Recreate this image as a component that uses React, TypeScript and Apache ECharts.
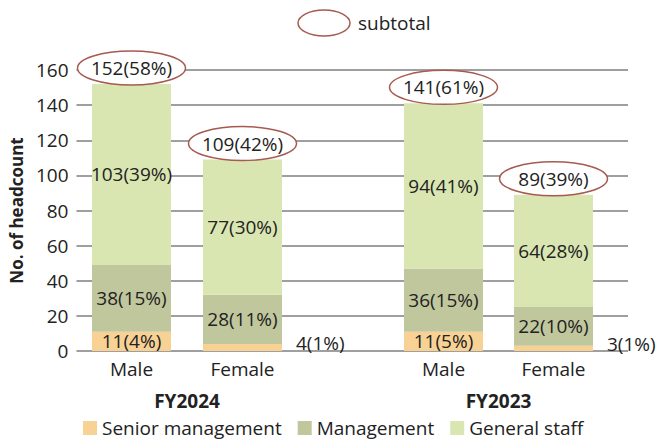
import React, { useEffect, useRef } from "react";
import * as echarts from "echarts";

const categories = ["Male", "Female"];
const fyLabels = ["FY2024", "FY2023"];
const seriesNames = ["Senior management", "Management", "General staff"];

const senior2024 = [11, 4];
const seniorPct2024 = [4, 1];
const mgmt2024 = [38, 28];
const mgmtPct2024 = [15, 11];
const general2024 = [103, 77];
const generalPct2024 = [39, 30];
const subtotalPct2024 = [58, 42];

const senior2023 = [11, 3];
const seniorPct2023 = [5, 1];
const mgmt2023 = [36, 22];
const mgmtPct2023 = [15, 10];
const general2023 = [94, 64];
const generalPct2023 = [41, 28];
const subtotalPct2023 = [61, 39];

const yMin = 0;
const yMax = 160;
const yInterval = 20;

const colors = ["#f8d194", "#c1c79d", "#d9e6b1"];
const FONT = '"Open Sans", "Noto Sans", sans-serif';
const TXT = "#222222";
const ELLIPSE = "#a65a50";

function App() {
  const ref = useRef<HTMLDivElement>(null);
  useEffect(() => {
    if (!ref.current) return;
    const chart = echarts.init(ref.current, null, { renderer: "svg" });

    const groups = [
      { vals: [senior2024, mgmt2024, general2024], pcts: [seniorPct2024, mgmtPct2024, generalPct2024], sub: subtotalPct2024 },
      { vals: [senior2023, mgmt2023, general2023], pcts: [seniorPct2023, mgmtPct2023, generalPct2023], sub: subtotalPct2023 },
    ];

    const series: any[] = [];
    groups.forEach((g, gi) => {
      g.vals.forEach((arr, si) => {
        series.push({
          type: "bar",
          name: seriesNames[si],
          xAxisIndex: gi + 1,
          yAxisIndex: gi + 1,
          stack: "s" + gi,
          barWidth: 79,
          itemStyle: { color: colors[si] },
          data: arr.map((v, i) => {
            const small = v < 6;
            return {
              value: v,
              label: {
                show: true,
                position: small ? "right" : "inside",
                distance: small ? 14 : 5,
                offset: small ? [0, -4] : [0, 0],
                formatter: `${v}(${g.pcts[si][i]}%)`,
                color: TXT,
                fontSize: 19,
                fontFamily: FONT,
              },
            };
          }),
        });
      });
      const totals = categories.map((_, i) => g.vals.reduce((s, a) => s + a[i], 0));
      series.push({
        type: "custom",
        name: "subtotal",
        xAxisIndex: gi + 1,
        yAxisIndex: gi + 1,
        z: 10,
        encode: { x: 0, y: 1 },
        data: totals.map((t, i) => [i, t, g.sub[i]]),
        renderItem: (params: any, api: any) => {
          const p = api.coord([api.value(0), api.value(1)]);
          const cy = p[1] - 16;
          return {
            type: "group",
            children: [
              {
                type: "ellipse",
                shape: { cx: p[0], cy, rx: 54, ry: 17 },
                style: { fill: "#ffffff", stroke: ELLIPSE, lineWidth: 1.5 },
              },
              {
                type: "text",
                x: p[0],
                y: cy,
                style: {
                  text: `${api.value(1)}(${api.value(2)}%)`,
                  fill: TXT,
                  fontSize: 19,
                  fontFamily: FONT,
                  align: "center",
                  verticalAlign: "middle",
                },
              },
            ],
          };
        },
      });
    });

    const gridTop = 70;
    const gridBottom = 91;

    const xCat = (gi: number) => ({
      type: "category",
      gridIndex: gi + 1,
      data: categories,
      axisLine: { show: false },
      axisTick: { show: false },
      axisLabel: { fontSize: 19, color: TXT, fontFamily: FONT, margin: 8 },
      name: fyLabels[gi],
      nameLocation: "middle",
      nameGap: 40,
      nameTextStyle: { fontSize: 19, fontWeight: "bold", color: TXT, fontFamily: FONT },
    });
    const yHidden = (gi: number) => ({
      type: "value",
      gridIndex: gi + 1,
      min: yMin,
      max: yMax,
      interval: yInterval,
      show: false,
      splitLine: { show: false },
    });

    chart.setOption({
      animation: false,
      backgroundColor: "#ffffff",
      grid: [
        { left: 76, right: 31, top: gridTop, bottom: gridBottom },
        { left: 76, width: 222, top: gridTop, bottom: gridBottom },
        { left: 388.5, width: 220, top: gridTop, bottom: gridBottom },
      ],
      xAxis: [{ type: "value", gridIndex: 0, show: false, min: 0, max: 1 }, xCat(0), xCat(1)],
      yAxis: [
        {
          type: "value",
          gridIndex: 0,
          min: yMin,
          max: yMax,
          interval: yInterval,
          axisLine: { show: false },
          axisTick: { show: false },
          axisLabel: { fontSize: 19, color: TXT, fontFamily: FONT, margin: 8 },
          splitLine: { lineStyle: { color: "#7f7f7f", width: 1.5 } },
          name: "No. of headcount",
          nameLocation: "middle",
          nameGap: 50,
          nameTextStyle: { fontSize: 17, fontWeight: "bold", color: TXT, fontFamily: FONT },
        },
        yHidden(0),
        yHidden(1),
      ],
      legend: {
        data: seriesNames,
        left: 83,
        top: 418,
        padding: 0,
        itemWidth: 14,
        itemHeight: 14,
        itemGap: 16,
        icon: "rect",
        textStyle: { fontSize: 19, lineHeight: 20, color: TXT, fontFamily: FONT },
      },
      graphic: [
        {
          type: "ellipse",
          shape: { cx: 324, cy: 23, rx: 26, ry: 13 },
          style: { fill: "#ffffff", stroke: ELLIPSE, lineWidth: 1.5 },
        },
        {
          type: "text",
          x: 358,
          y: 23,
          style: { text: "subtotal", fill: TXT, fontSize: 19, fontFamily: FONT, verticalAlign: "middle" },
        },
      ],
      series,
    });
    return () => chart.dispose();
  }, []);
  return (
    <div
      ref={ref}
      style={{ position: "fixed", left: 0, top: 0, width: 659, height: 442, background: "#fff" }}
    />
  );
}

export default App;
